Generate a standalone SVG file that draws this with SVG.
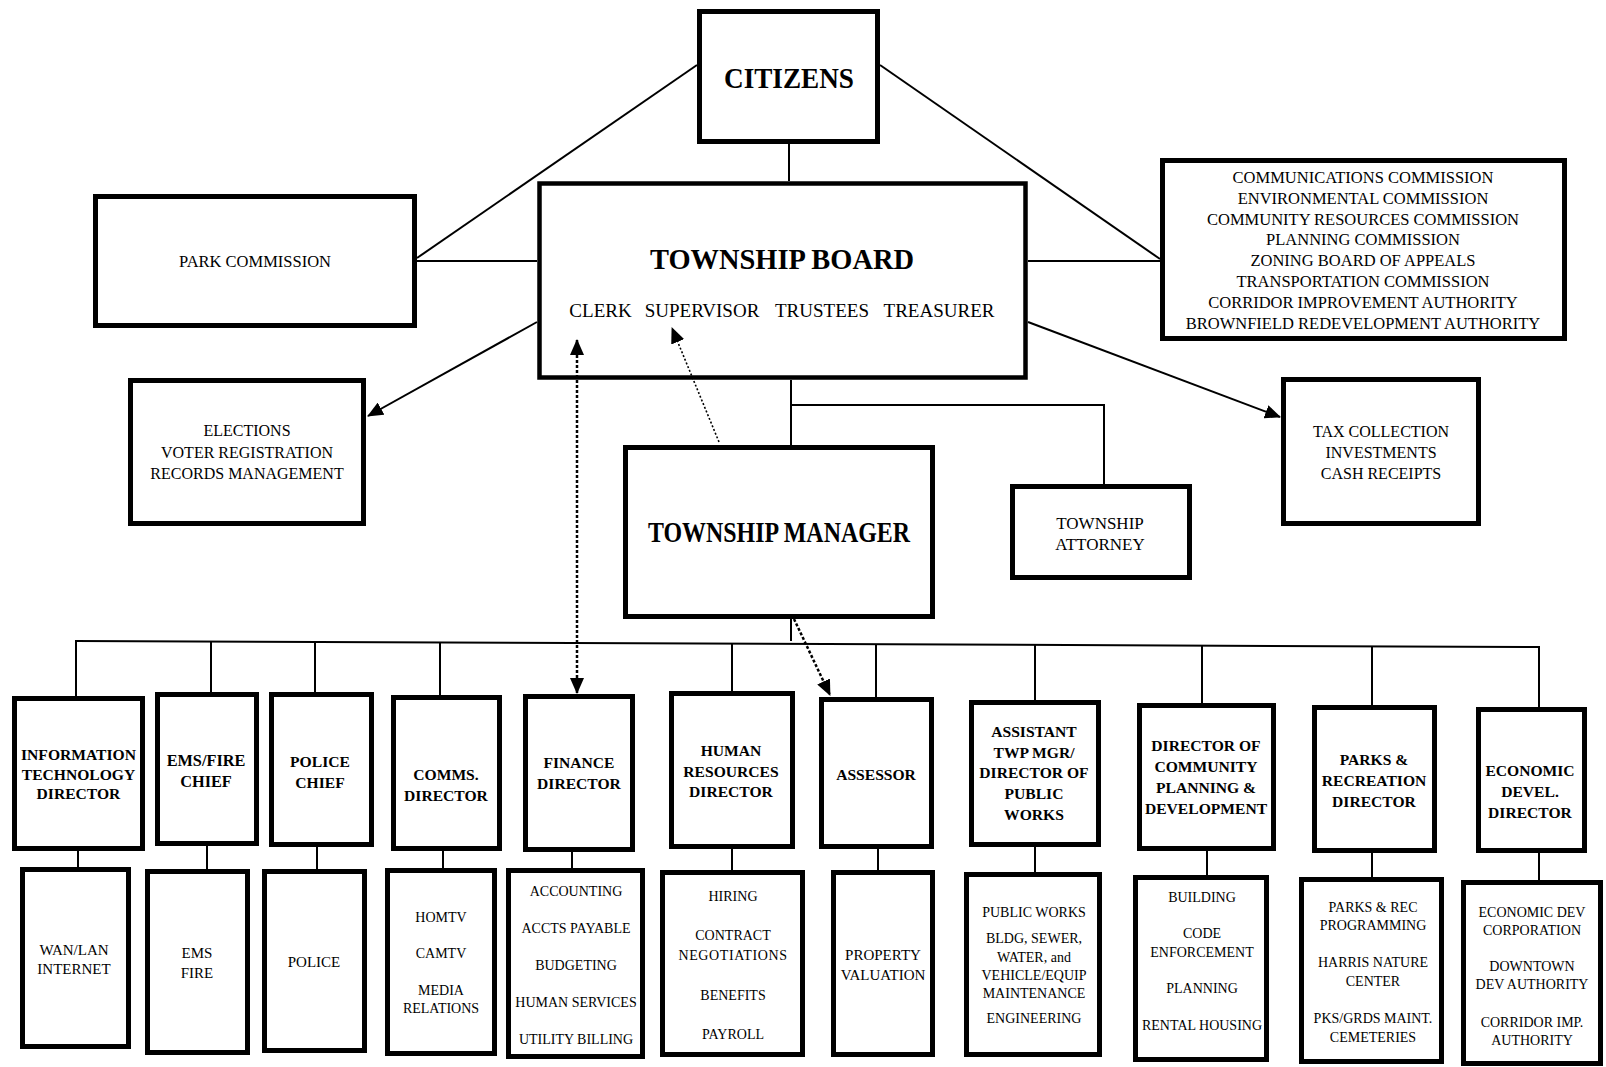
<svg xmlns="http://www.w3.org/2000/svg" width="1606" height="1067" viewBox="0 0 1606 1067">
<style>
text{font-family:"Liberation Serif","Times New Roman",serif;fill:#000;text-anchor:middle}
.box{fill:#fff;stroke:#000;stroke-width:5}
.ln{stroke:#000;stroke-width:2;fill:none}
.t1{font-size:30px;font-weight:bold}
.reg{font-size:16.5px}
.hd{font-size:15.6px;font-weight:bold}
.sb{font-size:14px}
.sb15{font-size:15px}
.dash{stroke:#000;stroke-width:2.5;fill:none;stroke-dasharray:3 2}
.dot{stroke:#000;stroke-width:1.6;fill:none;stroke-dasharray:2 2}
</style>
<defs>
<marker id="ah" markerUnits="userSpaceOnUse" markerWidth="16" markerHeight="14" refX="15" refY="7" orient="auto-start-reverse" viewBox="0 0 16 14">
<path d="M0,0 L16,7 L0,14 z" fill="#000"/>
</marker>
</defs>
<rect width="1606" height="1067" fill="#fff"/>

<g id="citizens">
<rect class="box" x="699.5" y="11.5" width="178" height="130"/>
<text class="t1" x="789" y="88" textLength="130" lengthAdjust="spacingAndGlyphs">CITIZENS</text>
</g>

<g id="township-board">
<rect class="box" x="539.5" y="183.5" width="486" height="194" style="stroke-width:4.5"/>
<text class="t1" x="782" y="269" font-size="31" textLength="264" lengthAdjust="spacingAndGlyphs">TOWNSHIP BOARD</text>
<g style="font-size:19px">
<text x="600.5" y="317">CLERK</text>
<text x="702" y="317">SUPERVISOR</text>
<text x="822" y="317">TRUSTEES</text>
<text x="939" y="317">TREASURER</text>
</g>
</g>

<g id="park-commission">
<rect class="box" x="95.5" y="196.5" width="319" height="129"/>
<text class="reg" x="255" y="267">PARK COMMISSION</text>
</g>

<g id="commissions">
<rect class="box" x="1162.5" y="160.5" width="402" height="178"/>
<g class="reg">
<text x="1363" y="183">COMMUNICATIONS COMMISSION</text>
<text x="1363" y="203.8">ENVIRONMENTAL COMMISSION</text>
<text x="1363" y="224.6">COMMUNITY RESOURCES COMMISSION</text>
<text x="1363" y="245.4">PLANNING COMMISSION</text>
<text x="1363" y="266.2">ZONING BOARD OF APPEALS</text>
<text x="1363" y="287">TRANSPORTATION COMMISSION</text>
<text x="1363" y="307.8">CORRIDOR IMPROVEMENT AUTHORITY</text>
<text x="1363" y="328.6">BROWNFIELD REDEVELOPMENT AUTHORITY</text>
</g>
</g>

<g id="elections">
<rect class="box" x="130.5" y="380.5" width="233" height="143"/>
<g style="font-size:16px">
<text x="247" y="436">ELECTIONS</text>
<text x="247" y="457.5">VOTER REGISTRATION</text>
<text x="247" y="479">RECORDS MANAGEMENT</text>
</g>
</g>

<g id="tax">
<rect class="box" x="1283.5" y="379.5" width="195" height="144"/>
<g style="font-size:16px">
<text x="1381" y="437">TAX COLLECTION</text>
<text x="1381" y="458">INVESTMENTS</text>
<text x="1381" y="479">CASH RECEIPTS</text>
</g>
</g>

<g id="township-manager">
<rect class="box" x="625.5" y="447.5" width="307" height="169"/>
<text class="t1" x="779" y="542" font-size="28" textLength="262" lengthAdjust="spacingAndGlyphs">TOWNSHIP MANAGER</text>
</g>

<g id="township-attorney">
<rect class="box" x="1012.5" y="486.5" width="177" height="91"/>
<g style="font-size:17px">
<text x="1100" y="529">TOWNSHIP</text>
<text x="1100" y="550">ATTORNEY</text>
</g>
</g>

<g id="it-director">
<rect class="box" x="14.5" y="698.5" width="128" height="150"/>
<g class="hd">
<text x="78.5" y="760">INFORMATION</text>
<text x="78.5" y="779.5">TECHNOLOGY</text>
<text x="78.5" y="799">DIRECTOR</text>
</g>
</g>
<g id="it-sub">
<rect class="box" x="22.5" y="869.5" width="106" height="177"/>
<g class="sb15">
<text x="74" y="955">WAN/LAN</text>
<text x="74" y="974">INTERNET</text>
</g>
</g>

<g id="ems-chief">
<rect class="box" x="157.5" y="694.5" width="99" height="149"/>
<g class="hd" style="font-size:16.3px">
<text x="206" y="766">EMS/FIRE</text>
<text x="206" y="787">CHIEF</text>
</g>
</g>
<g id="ems-sub">
<rect class="box" x="147.5" y="871.5" width="100" height="181"/>
<g class="sb15">
<text x="197" y="958">EMS</text>
<text x="197" y="978">FIRE</text>
</g>
</g>

<g id="police-chief">
<rect class="box" x="271.5" y="694.5" width="100" height="150"/>
<g class="hd">
<text x="320" y="767">POLICE</text>
<text x="320" y="787.5">CHIEF</text>
</g>
</g>
<g id="police-sub">
<rect class="box" x="264.5" y="871.5" width="100" height="179"/>
<text class="sb15" x="314" y="967">POLICE</text>
</g>

<g id="comms-director">
<rect class="box" x="393.5" y="697.5" width="106" height="151"/>
<g class="hd">
<text x="446" y="780">COMMS.</text>
<text x="446" y="801">DIRECTOR</text>
</g>
</g>
<g id="comms-sub">
<rect class="box" x="387.5" y="870.5" width="107" height="183"/>
<g class="sb">
<text x="441" y="922">HOMTV</text>
<text x="441" y="958">CAMTV</text>
<text x="441" y="995">MEDIA</text>
<text x="441" y="1013">RELATIONS</text>
</g>
</g>

<g id="finance-director">
<rect class="box" x="525.5" y="696.5" width="107" height="153"/>
<g class="hd">
<text x="579" y="768">FINANCE</text>
<text x="579" y="789">DIRECTOR</text>
</g>
</g>
<g id="finance-sub">
<rect class="box" x="508.5" y="870.5" width="134" height="186"/>
<g class="sb">
<text x="576" y="896">ACCOUNTING</text>
<text x="576" y="933">ACCTS PAYABLE</text>
<text x="576" y="970">BUDGETING</text>
<text x="576" y="1007">HUMAN SERVICES</text>
<text x="576" y="1044">UTILITY BILLING</text>
</g>
</g>

<g id="hr-director">
<rect class="box" x="671.5" y="693.5" width="121" height="153"/>
<g class="hd">
<text x="731" y="756">HUMAN</text>
<text x="731" y="777">RESOURCES</text>
<text x="731" y="797">DIRECTOR</text>
</g>
</g>
<g id="hr-sub">
<rect class="box" x="662.5" y="872.5" width="140" height="182"/>
<g class="sb">
<text x="733" y="901">HIRING</text>
<text x="733" y="940">CONTRACT</text>
<text x="733" y="960" letter-spacing="0.6">NEGOTIATIONS</text>
<text x="733" y="1000">BENEFITS</text>
<text x="733" y="1039">PAYROLL</text>
</g>
</g>

<g id="assessor">
<rect class="box" x="821.5" y="699.5" width="110" height="147"/>
<text class="hd" x="876" y="780">ASSESSOR</text>
</g>
<g id="assessor-sub">
<rect class="box" x="833.5" y="872.5" width="99" height="182"/>
<g class="sb15">
<text x="883" y="960">PROPERTY</text>
<text x="883" y="980">VALUATION</text>
</g>
</g>

<g id="assistant-manager">
<rect class="box" x="971.5" y="702.5" width="127" height="142"/>
<g class="hd">
<text x="1034" y="737">ASSISTANT</text>
<text x="1034" y="757.5">TWP MGR/</text>
<text x="1034" y="778">DIRECTOR OF</text>
<text x="1034" y="799">PUBLIC</text>
<text x="1034" y="820">WORKS</text>
</g>
</g>
<g id="public-works-sub">
<rect class="box" x="966.5" y="874.5" width="133" height="180"/>
<g class="sb">
<text x="1034" y="917">PUBLIC WORKS</text>
<text x="1034" y="943">BLDG, SEWER,</text>
<text x="1034" y="962">WATER, and</text>
<text x="1034" y="980">VEHICLE/EQUIP</text>
<text x="1034" y="998">MAINTENANCE</text>
<text x="1034" y="1023">ENGINEERING</text>
</g>
</g>

<g id="community-planning">
<rect class="box" x="1139.5" y="705.5" width="134" height="143"/>
<g class="hd">
<text x="1206" y="751">DIRECTOR OF</text>
<text x="1206" y="772">COMMUNITY</text>
<text x="1206" y="793">PLANNING &amp;</text>
<text x="1206" y="814">DEVELOPMENT</text>
</g>
</g>
<g id="community-planning-sub">
<rect class="box" x="1135.5" y="877.5" width="131" height="182"/>
<g class="sb">
<text x="1202" y="902">BUILDING</text>
<text x="1202" y="938">CODE</text>
<text x="1202" y="957">ENFORCEMENT</text>
<text x="1202" y="993">PLANNING</text>
<text x="1202" y="1030">RENTAL HOUSING</text>
</g>
</g>

<g id="parks-director">
<rect class="box" x="1314.5" y="707.5" width="120" height="143"/>
<g class="hd">
<text x="1374" y="765">PARKS &amp;</text>
<text x="1374" y="786">RECREATION</text>
<text x="1374" y="807">DIRECTOR</text>
</g>
</g>
<g id="parks-sub">
<rect class="box" x="1301.5" y="879.5" width="140" height="182"/>
<g class="sb">
<text x="1373" y="912">PARKS &amp; REC</text>
<text x="1373" y="930">PROGRAMMING</text>
<text x="1373" y="967">HARRIS NATURE</text>
<text x="1373" y="986">CENTER</text>
<text x="1373" y="1023">PKS/GRDS MAINT.</text>
<text x="1373" y="1042">CEMETERIES</text>
</g>
</g>

<g id="economic-director">
<rect class="box" x="1478.5" y="709.5" width="106" height="141"/>
<g class="hd">
<text x="1530" y="776">ECONOMIC</text>
<text x="1530" y="797">DEVEL.</text>
<text x="1530" y="818">DIRECTOR</text>
</g>
</g>
<g id="economic-sub">
<rect class="box" x="1463.5" y="882.5" width="137" height="181"/>
<g class="sb">
<text x="1532" y="917">ECONOMIC DEV</text>
<text x="1532" y="935">CORPORATION</text>
<text x="1532" y="971">DOWNTOWN</text>
<text x="1532" y="989">DEV AUTHORITY</text>
<text x="1532" y="1027">CORRIDOR IMP.</text>
<text x="1532" y="1045">AUTHORITY</text>
</g>
</g>

<g id="connectors">
<line class="ln" x1="697" y1="65" x2="417" y2="258"/>
<line class="ln" x1="880" y1="65" x2="1160" y2="259"/>
<line class="ln" x1="789" y1="144" x2="789" y2="181"/>
<line class="ln" x1="417" y1="261" x2="537" y2="261"/>
<line class="ln" x1="1028" y1="261" x2="1160" y2="261"/>
<line class="ln" x1="537" y1="322" x2="368" y2="416" marker-end="url(#ah)"/>
<line class="ln" x1="1028" y1="322" x2="1280" y2="417" marker-end="url(#ah)"/>
<line class="ln" x1="791" y1="380" x2="791" y2="445"/>
<polyline class="ln" points="791,405 1104,405 1104,484"/>
<line class="ln" x1="791" y1="619" x2="791" y2="641"/>
<line class="ln" x1="75" y1="641" x2="1540" y2="647"/>
<line class="ln" x1="76" y1="641" x2="76" y2="696"/>
<line class="ln" x1="211" y1="641" x2="211" y2="692"/>
<line class="ln" x1="315" y1="642" x2="315" y2="692"/>
<line class="ln" x1="440" y1="642" x2="440" y2="695"/>
<line class="ln" x1="732" y1="643" x2="732" y2="691"/>
<line class="ln" x1="876" y1="644" x2="876" y2="697"/>
<line class="ln" x1="1035" y1="645" x2="1035" y2="700"/>
<line class="ln" x1="1202" y1="646" x2="1202" y2="703"/>
<line class="ln" x1="1372" y1="646" x2="1372" y2="705"/>
<line class="ln" x1="1539" y1="647" x2="1539" y2="707"/>
<line class="ln" x1="78" y1="851" x2="78" y2="867"/>
<line class="ln" x1="207" y1="846" x2="207" y2="869"/>
<line class="ln" x1="317" y1="847" x2="317" y2="869"/>
<line class="ln" x1="443" y1="851" x2="443" y2="868"/>
<line class="ln" x1="572" y1="852" x2="572" y2="868"/>
<line class="ln" x1="732" y1="849" x2="732" y2="870"/>
<line class="ln" x1="878" y1="849" x2="878" y2="870"/>
<line class="ln" x1="1035" y1="847" x2="1035" y2="872"/>
<line class="ln" x1="1207" y1="851" x2="1207" y2="875"/>
<line class="ln" x1="1372" y1="853" x2="1372" y2="877"/>
<line class="ln" x1="1539" y1="853" x2="1539" y2="880"/>
<line class="dash" x1="577" y1="340" x2="577" y2="693" marker-start="url(#ah)" marker-end="url(#ah)"/>
<line class="dot" x1="719" y1="442" x2="672" y2="328" marker-end="url(#ah)"/>
<line class="dash" x1="794" y1="619" x2="830" y2="695" marker-end="url(#ah)"/>
</g>
</svg>
